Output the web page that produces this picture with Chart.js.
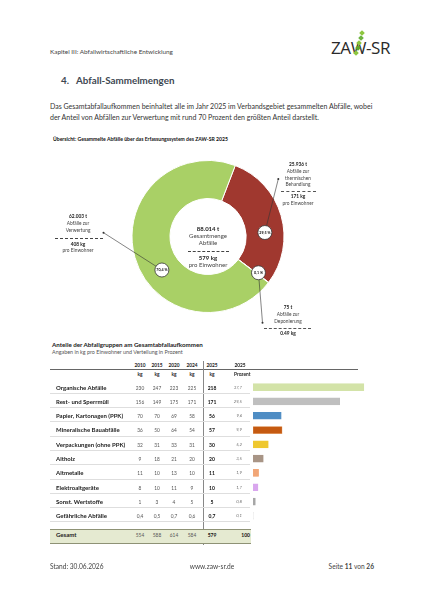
<!DOCTYPE html>
<html lang="de">
<head>
<meta charset="utf-8">
<title>Abfall-Sammelmengen</title>
<script src="https://cdn.jsdelivr.net/npm/chart.js@4.4.1/dist/chart.umd.min.js"></script>
<style>
html, body { margin: 0; padding: 0; background: #fff; }
body { width: 424px; height: 600px; position: relative; overflow: hidden; font-family: Lato, "Noto Sans", sans-serif; color: #333; }
.abs { position: absolute; white-space: nowrap; line-height: 10px; }
.rule { position: absolute; height: 0; }
#donutBox { position: absolute; left: 38px; top: 146px; width: 340px; height: 190px; }
#barBox { position: absolute; left: 253px; top: 380.35px; width: 120px; height: 143px; }
.pct { position: absolute; font-size: 3.7px; font-weight: 700; color: #111; line-height: 6px; transform: translate(-50%, -50%); white-space: nowrap; }
.leaf { position: absolute; width: 4px; height: 4px; transform: rotate(45deg); }
</style>
</head>
<body>
<div id="donutBox"><canvas id="donutChart"></canvas></div>
<div id="barBox"><canvas id="barChart"></canvas></div>

<script>
// Doughnut: Erfassungssystem 2025
const donutNames = ['Abfälle zur thermischen Behandlung', 'Abfälle zur Deponierung', 'Abfälle zur Verwertung'];
const donutTonnes = [25936, 75, 62003];
const donutShares = [29.5, 0.1, 70.4];
const donutKg = [171, 0.49, 408];
const donutTotalKg = 579;
const donutColors = ['#A0382F', '#8C8C8C', '#A9D066'];

// Table: Anteile der Abfallgruppen
const years = ['2010', '2015', '2020', '2024', '2025'];
const groups = ['Organische Abfälle', 'Rest- und Sperrmüll', 'Papier, Kartonagen (PPK)', 'Mineralische Bauabfälle',
    'Verpackungen (ohne PPK)', 'Altholz', 'Altmetalle', 'Elektroaltgeräte', 'Sonst. Wertstoffe', 'Gefährliche Abfälle'];
const kg2010 = [230, 156, 70, 36, 32, 9, 11, 8, 1, 0.4];
const kg2015 = [247, 149, 70, 50, 31, 18, 10, 10, 3, 0.5];
const kg2020 = [223, 175, 69, 64, 33, 21, 13, 11, 4, 0.7];
const kg2024 = [225, 171, 58, 54, 31, 20, 10, 9, 5, 0.6];
const kg2025 = [218, 171, 56, 57, 30, 20, 11, 10, 5, 0.7];
const pct2025 = [37.7, 29.5, 9.6, 9.9, 5.2, 3.5, 1.9, 1.7, 0.8, 0.1];
const totals = [554, 588, 614, 584, 579];
const barColors = ['#D3E3A8', '#BFBFBF', '#4F8DC4', '#C55A11', '#EFC82F', '#A89586', '#F1A677', '#D9A6EE', '#A6A6A6', '#D9D9D9'];
const barBorders = ['#D3E3A8', '#BFBFBF', '#4F8DC4', '#E3A16B', '#EFC82F', '#A89586', '#F1A677', '#D9A6EE', '#A6A6A6', '#D9D9D9'];

/* Helpers */

function put(html, x, y, style, align) {
    const d = document.createElement('div');
    d.className = 'abs';
    d.innerHTML = html;
    d.style.cssText += style || '';
    d.style.left = x + 'px';
    d.style.top = (y - 5) + 'px';
    if (align === 'center') d.style.transform = 'translateX(-50%)';
    if (align === 'right') d.style.transform = 'translateX(-100%)';
    document.body.appendChild(d);
    return d;
}

function hline(x1, x2, y, color, w, style) {
    const d = document.createElement('div');
    d.className = 'rule';
    d.style.left = x1 + 'px';
    d.style.top = y + 'px';
    d.style.width = (x2 - x1) + 'px';
    d.style.borderTop = w + 'px ' + (style || 'solid') + ' ' + color;
    document.body.appendChild(d);
}

function vline(x, y1, y2, color, w) {
    const d = document.createElement('div');
    d.className = 'rule';
    d.style.left = x + 'px';
    d.style.top = y1 + 'px';
    d.style.height = (y2 - y1) + 'px';
    d.style.borderLeft = w + 'px solid ' + color;
    document.body.appendChild(d);
}

function de(v) {
    return String(v).replace('.', ',');
}

function tonnes(v) {
    return String(v).replace(/\B(?=(\d{3})+(?!\d))/g, '.') + ' t';
}

/* Page text */

put('Kapitel III: Abfallwirtschaftliche Entwicklung', 50, 52, 'font-size:6.4px;color:#444');
put('ZAW-SR', 331, 48, 'font-size:17px;color:#2a2a2a;letter-spacing:-0.4px;font-family:"Open Sans"');
[[360, 31, '#8DC63F'], [358.5, 36, '#6DB33F'], [357, 41, '#8DC63F'], [355.5, 46, '#5FA829'], [354, 51, '#8DC63F']].forEach(l => {
    const s = document.createElement('div');
    s.className = 'leaf';
    s.style.left = l[0] + 'px';
    s.style.top = l[1] + 'px';
    s.style.background = l[2];
    document.body.appendChild(s);
});

put('4.', 61, 80, 'font-size:9.8px;font-weight:700;color:#3E4852');
put('Abfall-Sammelmengen', 76, 80, 'font-size:9.8px;font-weight:700;color:#3E4852');
put('Das Gesamtabfallaufkommen beinhaltet alle im Jahr 2025 im Verbandsgebiet gesammelten Abfälle, wobei', 50, 106, 'font-size:7px;color:#333');
put('der Anteil von Abfällen zur Verwertung mit rund 70 Prozent den größten Anteil darstellt.', 50, 116.7, 'font-size:7px;color:#333');
put('Übersicht: Gesammelte Abfälle über das Erfassungssystem des ZAW-SR 2025', 53, 139, 'font-size:5.1px;font-weight:700;color:#111');

/* Doughnut labels */

const total = donutTonnes.reduce((s, v) => s + v, 0);
const small = 'font-size:4.8px;color:#444';
const smallB = 'font-size:4.8px;font-weight:700;color:#222';
const mid = 'font-size:6px;color:#444';
const midB = 'font-size:6px;font-weight:700;color:#222';

// centre
put(tonnes(total), 208, 229, midB, 'center');
put('Gesamtmenge', 208, 235.7, mid, 'center');
put('Abfälle', 208, 242.7, mid, 'center');
hline(188, 229, 250.5, '#444', 0.7, 'dashed');
put(donutTotalKg + ' kg', 208, 258, midB, 'center');
put('pro Einwohner', 208, 265, mid, 'center');

// Verwertung (links)
put(tonnes(donutTonnes[2]), 78, 215.7, smallB, 'center');
put('Abfälle zur', 78, 223, small, 'center');
put('Verwertung', 78, 230, small, 'center');
hline(55, 103, 238.3, '#444', 0.7, 'dashed');
put(donutKg[2] + ' kg', 78, 243.5, smallB, 'center');
put('pro Einwohner', 78, 250.3, small, 'center');

// thermische Behandlung (rechts oben)
put(tonnes(donutTonnes[0]), 298, 164.3, smallB, 'center');
put('Abfälle zur', 298, 171, small, 'center');
put('thermischen', 298, 177.7, small, 'center');
put('Behandlung', 298, 184.3, small, 'center');
hline(280.5, 316, 190.8, '#555', 0.7, 'dashed');
put(donutKg[0] + ' kg', 298, 196.3, smallB, 'center');
put('pro Einwohner', 298, 202.7, small, 'center');

// Deponierung (rechts unten)
put(tonnes(donutTonnes[1]), 288, 307.3, smallB, 'center');
put('Abfälle zur', 288, 314, small, 'center');
put('Deponierung', 288, 320.7, small, 'center');
hline(264, 311, 327.8, '#555', 0.7, 'dashed');
put(donutKg[1] + ' kg', 288, 333.3, smallB, 'center');

const pctLabels = donutShares.map(s => {
    const d = document.createElement('div');
    d.className = 'pct';
    d.textContent = de(s) + ' %';
    document.body.appendChild(d);
    return d;
});

// callout: slice index, angle on ring (deg from top), radius factor, end point offset from centre
const callouts = [
    { index: 2, angle: 234, radius: 1.0, dx: -104.5, dy: -3.8 },
    { index: 0, angle: 86, radius: 1.0, dx: 70.3, dy: -57.5 },
    { index: 1, angle: 125.7, radius: 1.09, dx: 54.5, dy: 86.2 }
];

const calloutPlugin = {
    id: 'callouts',
    afterDatasetsDraw(chart) {
        const ctx = chart.ctx;
        const arcs = chart.getDatasetMeta(0).data;
        const box = chart.canvas.parentNode;
        const cx = arcs[0].x, cy = arcs[0].y;
        const ring = (arcs[0].innerRadius + arcs[0].outerRadius) / 2;

        callouts.forEach(c => {
            const a = (c.angle - 90) * Math.PI / 180;
            const px = cx + ring * c.radius * Math.cos(a);
            const py = cy + ring * c.radius * Math.sin(a);
            const ex = cx + c.dx, ey = cy + c.dy;

            ctx.save();
            ctx.strokeStyle = '#333';
            ctx.lineWidth = 0.6;
            ctx.beginPath();
            ctx.moveTo(px, py);
            ctx.lineTo(ex, ey);
            ctx.stroke();

            ctx.fillStyle = '#333';
            ctx.beginPath();
            ctx.arc(ex, ey, 1, 0, Math.PI * 2);
            ctx.fill();

            ctx.fillStyle = '#fff';
            ctx.lineWidth = 0.8;
            ctx.beginPath();
            ctx.arc(px, py, 7, 0, Math.PI * 2);
            ctx.fill();
            ctx.stroke();
            ctx.restore();

            const lbl = pctLabels[c.index];
            lbl.style.left = (box.offsetLeft + px) + 'px';
            lbl.style.top = (box.offsetTop + py) + 'px';
        });
    }
};

new Chart(document.getElementById('donutChart'), {
    type: 'doughnut',
    data: {
        labels: donutNames,
        datasets: [{
            data: donutTonnes,
            backgroundColor: donutColors,
            borderColor: '#fff',
            borderWidth: 1
        }]
    },
    options: {
        responsive: true,
        maintainAspectRatio: false,
        animation: false,
        rotation: 21,
        radius: 76,
        cutout: '50%',
        layout: { padding: { bottom: 9 } },
        plugins: { legend: { display: false }, tooltip: { enabled: false } }
    },
    plugins: [calloutPlugin]
});

/* Table */

put('Anteile der Abfallgruppen am Gesamtabfallaufkommen', 52, 345, 'font-size:6.2px;font-weight:700;color:#222');
put('Angaben in kg pro Einwohner und Verteilung in Prozent', 52, 351.5, 'font-size:5.4px;color:#555');

const colX = [140, 157, 174, 192, 212];
const head = 'font-size:4.8px;font-weight:700;color:#222';
years.forEach((y, i) => {
    put(y, colX[i], 365, head, 'center');
    put('kg', colX[i], 373.5, head, 'center');
});
put('2025', 240, 365, head, 'center');
put('Prozent', 234, 373.5, head);
hline(50, 358, 369, '#666', 1);
vline(202.5, 361, 545, '#888', 0.7);

const series = [kg2010, kg2015, kg2020, kg2024, kg2025];
const rowY = groups.map((g, i) => 387.5 + i * 14.3);

groups.forEach((g, i) => {
    const y = rowY[i];
    put(g, 56, y, 'font-size:6px;font-weight:700;color:#222');
    series.forEach((s, j) => {
        const last = j === series.length - 1;
        put(de(s[i]), colX[j], y, last ? 'font-size:5px;font-weight:700;color:#111' : 'font-size:4.8px;color:#555', 'center');
    });
    put(de(pct2025[i]), 242, y, 'font-size:4.2px;font-style:italic;color:#666', 'right');
    hline(50, 250, y + 5.2, '#DEDEDE', 0.6);
});

// Gesamt row
const band = document.createElement('div');
band.style.cssText = 'position:absolute;left:50px;top:528.5px;width:201px;height:13px;background:#E5EAD1;border-top:1px solid #8E9275;border-bottom:1px solid #8E9275;';
document.body.appendChild(band);
put('Gesamt', 56, 535.3, 'font-size:6px;font-weight:700;color:#222');
totals.forEach((t, j) => {
    const last = j === totals.length - 1;
    put(String(t), colX[j], 535.3, last ? 'font-size:5px;font-weight:700;color:#111' : 'font-size:4.8px;color:#555', 'center');
});
put('100', 250, 535.3, 'font-size:5px;font-weight:700;color:#111', 'right');

new Chart(document.getElementById('barChart'), {
    type: 'bar',
    data: {
        labels: groups,
        datasets: [{
            data: pct2025,
            backgroundColor: barColors,
            borderColor: barBorders,
            borderWidth: 0.6,
            borderSkipped: false,
            barThickness: 7
        }]
    },
    options: {
        indexAxis: 'y',
        responsive: true,
        maintainAspectRatio: false,
        animation: false,
        layout: { padding: 0 },
        plugins: { legend: { display: false }, tooltip: { enabled: false } },
        scales: {
            x: { display: false, min: 0, max: 40.8 },
            y: { display: false }
        }
    }
});

/* Footer */

put('Stand: 30.06.2026', 50, 566, 'font-size:6.6px;color:#444');
put('www.zaw-sr.de', 212, 566, 'font-size:6.6px;color:#444', 'center');
put('Seite <b>11</b> von <b>26</b>', 374, 566, 'font-size:6.6px;color:#444', 'right');
</script>
</body>
</html>
